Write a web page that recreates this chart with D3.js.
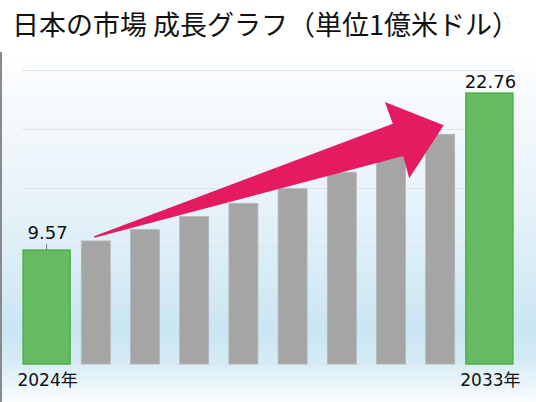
<!DOCTYPE html>
<html>
<head>
<meta charset="utf-8">
<script src="https://cdn.jsdelivr.net/npm/d3@7/dist/d3.min.js"></script>
<style>
html,body{margin:0;padding:0;background:#fff;}
svg{display:block;}
</style>
</head>
<body>
<svg id="chart" width="536" height="402"></svg>
<script>
const title = "日本の市場 成長グラフ（単位1億米ドル）";
const years = ["2024","2025","2026","2027","2028","2029","2030","2031","2032","2033"];
const values = [9.57, 10.34, 11.29, 12.38, 13.50, 14.73, 16.11, 17.62, 19.30, 22.76];
const highlighted = ["2024","2033"];
const axisLabels = {"2024":"2024年","2033":"2033年"};
const yMax = 24.7;
const gridValues = [0, 4.94, 9.88, 14.82, 19.76, 24.7];

const W = 536, H = 402;
const svg = d3.select("#chart");

// background
const defs = svg.append("defs");
const grad = defs.append("linearGradient").attr("id","bg").attr("x1",0).attr("y1",0).attr("x2",0).attr("y2",1);
[[0,"#ffffff"],[0.08,"#fafcfe"],[0.45,"#e6f2f9"],[0.8,"#cae6f2"],[0.88,"#d5ebf5"],[1,"#fafdfe"]]
  .forEach(([o,c])=>grad.append("stop").attr("offset",o).attr("stop-color",c));
svg.append("rect").attr("x",0).attr("y",52).attr("width",W).attr("height",H-52).attr("fill","url(#bg)");
svg.append("rect").attr("x",0).attr("y",52).attr("width",2).attr("height",H-52).attr("fill","#8a8a8a");

// scales
const x = d3.scaleBand().domain(years).range([22, 514]).padding(0);
const y = d3.scaleLinear().domain([0, yMax]).range([364, 70]);

// grid
svg.append("g").selectAll("line").data(gridValues).join("line")
  .attr("x1",22).attr("x2",514)
  .attr("y1",d=>Math.round(y(d))+0.5).attr("y2",d=>Math.round(y(d))+0.5)
  .attr("stroke","#dde5ea").attr("stroke-width",1);

// bars
const isHi = d => highlighted.includes(d);
const bw = d => isHi(d) ? 47 : 29;
svg.append("g").selectAll("rect").data(years).join("rect")
  .attr("x", d => x(d) + x.bandwidth()/2 - bw(d)/2)
  .attr("y", (d,i) => y(values[i]))
  .attr("width", d => bw(d))
  .attr("height", (d,i) => y(0) - y(values[i]))
  .attr("fill", d => isHi(d) ? "#66bb63" : "#a5a5a5")
  .attr("stroke", d => isHi(d) ? "#4caf48" : "#b3b8bb")
  .attr("stroke-width", d => isHi(d) ? 1.5 : 0.8);

// value labels
const cx = d => x(d) + x.bandwidth()/2;
highlighted.forEach(d => {
  const i = years.indexOf(d);
  svg.append("text").attr("x", cx(d)+1).attr("y", y(values[i]) - (d==="2024"?11:5))
    .attr("text-anchor","middle").attr("font-family","DejaVu Sans, sans-serif")
    .attr("font-size",18).attr("fill","#111").text(values[i].toFixed(2));
  if (d==="2024") {
    svg.append("line").attr("x1",cx(d)).attr("x2",cx(d))
      .attr("y1",y(values[i])-6).attr("y2",y(values[i])).attr("stroke","#777").attr("stroke-width",1);
  }
  svg.append("text").attr("x", cx(d)+1).attr("y", 386)
    .attr("text-anchor","middle").attr("font-family","DejaVu Sans, 'Noto Sans CJK JP', sans-serif")
    .attr("font-size",17).attr("fill","#111").text(axisLabels[d]);
});

// arrow (annotation) anchored on bar positions
const tail = [cx("2025") - 1.5, y(values[1]) - 4];
const tip = [cx("2032") + 3.5, y(values[8]) - 9];
const dx = tip[0]-tail[0], dy = tip[1]-tail[1], L = Math.hypot(dx,dy);
const ux = dx/L, uy = dy/L, nx = -uy, ny = ux;
const headLen = 48, headHalf = 40, shaftHalf = 17, tailHalf = 0.8;
const pt = (u,v) => [tail[0]+ux*u+nx*v, tail[1]+uy*u+ny*v];
const arrowPts = [pt(0,-tailHalf), pt(L-headLen,-shaftHalf), pt(L-headLen-1,-headHalf), pt(L,0),
  pt(L-headLen-1,headHalf), pt(L-headLen,shaftHalf), pt(0,tailHalf)];
svg.append("path").attr("d", d3.line()(arrowPts)+"Z").attr("fill","#e51a61");

// title
svg.append("text").attr("x",12).attr("y",35)
  .attr("font-family","'Noto Sans CJK JP', sans-serif").attr("font-size",27).attr("fill","#111")
  .text(title);
</script>
</body>
</html>
